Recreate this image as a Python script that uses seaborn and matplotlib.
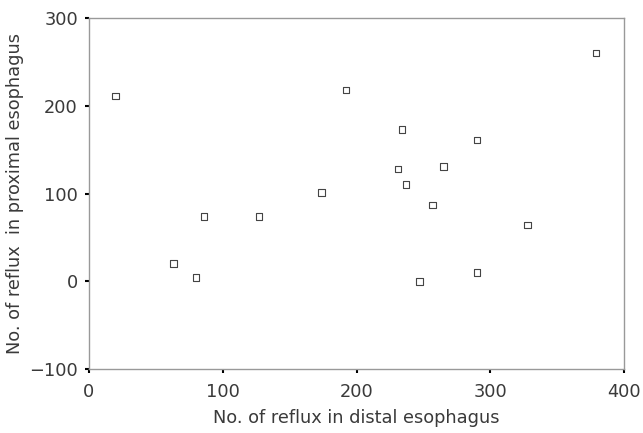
import matplotlib
matplotlib.use("Agg")
import matplotlib.pyplot as plt
import pandas as pd
import seaborn as sns

# values
distal = [20, 192, 234, 290, 231, 265, 237, 257, 174, 86, 127, 63, 80, 247, 290, 328, 379]
proximal = [211, 218, 173, 161, 128, 131, 110, 87, 101, 74, 74, 20, 4, 0, 10, 64, 260]

x_ticks = [0, 100, 200, 300, 400]
y_ticks = [-100, 0, 100, 200, 300]

df = pd.DataFrame({"distal": distal, "proximal": proximal})

sns.set_style("white")
plt.rcParams["font.family"] = ["DejaVu Sans"]

fig = plt.figure(figsize=(6.43, 4.33), dpi=100)
ax = fig.add_axes([0.1384, 0.1478, 0.8321, 0.8106])

sns.scatterplot(data=df, x="distal", y="proximal", ax=ax, marker="s", s=22,
                facecolor="none", edgecolor="#444444", linewidth=0.8)

ax.set_xlim(0, 400)
ax.set_ylim(-100, 300)
ax.set_xticks(x_ticks)
ax.set_yticks(y_ticks)
ax.set_yticklabels(["\u2212100", "0", "100", "200", "300"])
ax.tick_params(axis="both", direction="out", length=3, width=1.5, color="black",
               labelsize=12.8, labelcolor="#3a3a3a", left=True, bottom=True)
ax.tick_params(axis="x", pad=7)
ax.tick_params(axis="y", pad=5)

for sp in ax.spines.values():
    sp.set_color("#999999")
    sp.set_linewidth(1.0)

ax.set_xlabel("No. of reflux in distal esophagus", fontsize=12.8, color="#3a3a3a", labelpad=6)
ax.set_ylabel("No. of reflux  in proximal esophagus", fontsize=12.8, color="#3a3a3a", labelpad=4)

fig.savefig("out.png", dpi=100)
